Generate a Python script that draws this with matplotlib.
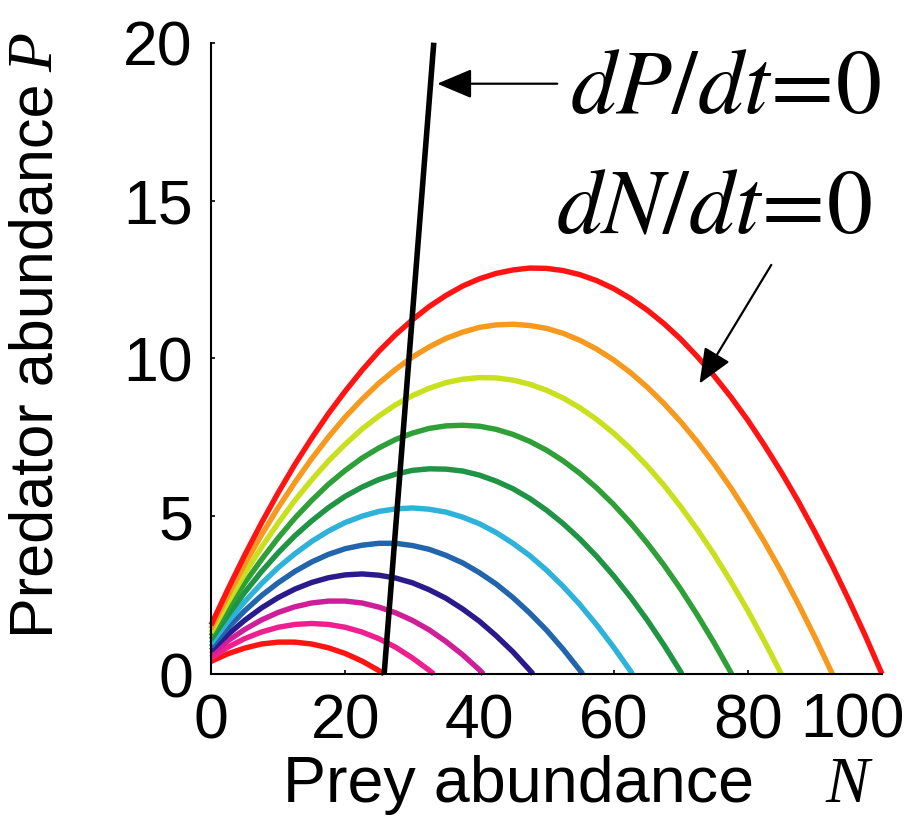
import matplotlib
matplotlib.use("Agg")
import matplotlib.pyplot as plt

plt.rcParams["font.family"] = ["Liberation Sans", "DejaVu Sans"]
plt.rcParams["mathtext.fontset"] = "stix"

# prey abundance grid where the curves were read
N_grid = [0, 2.5, 5, 7.5, 10, 12.5, 15, 17.5, 20, 22.5, 25, 27.5, 30, 32.5,
          35, 37.5, 40, 42.5, 45, 47.5, 50, 52.5, 55, 57.5, 60, 62.5, 65,
          67.5, 70, 72.5, 75, 77.5, 80, 82.5, 85, 87.5, 90, 92.5, 95, 97.5]

# x-intercepts (carrying capacities) of the dN/dt=0 curves
K_vals = [25.8, 33.2, 40.6, 48.0, 55.4, 62.8, 70.2, 77.6, 85.0, 92.6, 100.0]

# predator abundance read along each prey nullcline, at N_grid points below K
P_k26 = [0.40, 0.64, 0.82, 0.95, 1.01, 1.01, 0.95, 0.83, 0.65, 0.41, 0.11]
P_k33 = [0.51, 0.85, 1.12, 1.33, 1.48, 1.57, 1.60, 1.57, 1.48, 1.33, 1.12,
         0.85, 0.51, 0.12]
P_k41 = [0.63, 1.05, 1.41, 1.71, 1.95, 2.13, 2.25, 2.31, 2.31, 2.25, 2.12,
         1.94, 1.70, 1.40, 1.03, 0.61, 0.13]
P_k48 = [0.74, 1.25, 1.70, 2.09, 2.42, 2.69, 2.90, 3.05, 3.14, 3.17, 3.13,
         3.04, 2.89, 2.67, 2.40, 2.06, 1.67, 1.21, 0.70, 0.12]
P_k55 = [0.86, 1.46, 2.00, 2.48, 2.89, 3.25, 3.55, 3.79, 3.97, 4.08, 4.14,
         4.14, 4.07, 3.95, 3.76, 3.52, 3.21, 2.85, 2.42, 1.93, 1.39, 0.78,
         0.11]
P_k63 = [0.97, 1.66, 2.29, 2.86, 3.37, 3.81, 4.20, 4.53, 4.80, 5.00, 5.15,
         5.23, 5.26, 5.22, 5.13, 4.97, 4.76, 4.48, 4.14, 3.75, 3.29, 2.77,
         2.19, 1.55, 0.85, 0.10]
P_k70 = [1.09, 1.86, 2.58, 3.24, 3.84, 4.38, 4.85, 5.27, 5.63, 5.92, 6.16,
         6.33, 6.45, 6.50, 6.49, 6.43, 6.30, 6.11, 5.87, 5.56, 5.19, 4.76,
         4.27, 3.72, 3.11, 2.44, 1.71, 0.92, 0.07]
P_k78 = [1.20, 2.07, 2.88, 3.62, 4.31, 4.94, 5.50, 6.01, 6.45, 6.84, 7.16,
         7.43, 7.63, 7.78, 7.86, 7.88, 7.85, 7.75, 7.59, 7.37, 7.09, 6.75,
         6.35, 5.89, 5.37, 4.79, 4.15, 3.45, 2.69, 1.86, 0.98, 0.04]
P_k85 = [1.31, 2.27, 3.17, 4.01, 4.78, 5.50, 6.15, 6.75, 7.28, 7.76, 8.17,
         8.53, 8.82, 9.05, 9.23, 9.34, 9.39, 9.38, 9.31, 9.18, 8.99, 8.74,
         8.43, 8.06, 7.63, 7.14, 6.59, 5.98, 5.30, 4.57, 3.78, 2.92, 2.01,
         1.03]
P_k93 = [1.43, 2.48, 3.47, 4.40, 5.27, 6.07, 6.82, 7.51, 8.14, 8.70, 9.21,
         9.65, 10.04, 10.36, 10.63, 10.83, 10.98, 11.06, 11.08, 11.04, 10.95,
         10.79, 10.57, 10.29, 9.95, 9.55, 9.09, 8.57, 7.99, 7.35, 6.65, 5.89,
         5.06, 4.18, 3.24, 2.23, 1.17, 0.05]
P_k100 = [1.55, 2.68, 3.76, 4.78, 5.74, 6.64, 7.47, 8.25, 8.96, 9.62, 10.22,
          10.75, 11.22, 11.64, 11.99, 12.29, 12.52, 12.69, 12.80, 12.86,
          12.85, 12.78, 12.65, 12.46, 12.21, 11.90, 11.53, 11.10, 10.61,
          10.05, 9.44, 8.77, 8.04, 7.24, 6.39, 5.48, 4.50, 3.47, 2.37, 1.22]

P_curves = [P_k26, P_k33, P_k41, P_k48, P_k55, P_k63, P_k70, P_k78,
            P_k85, P_k93, P_k100]

colors = ["#ff1414", "#ee1f8e", "#cf1f98", "#2b1a8c", "#2265ad", "#2fb2da",
          "#1f9444", "#2fa038", "#c8e01e", "#f6991f", "#ff1414"]

# predator nullcline dP/dt=0 (end points)
N_pred = [25.8, 33.2]
P_pred = [0.0, 20.0]

x_ticks = [0, 20, 40, 60, 80, 100]
y_ticks = [0, 5, 10, 15, 20]

fig = plt.figure(figsize=(9.22, 8.27), dpi=100)
ax = fig.add_axes([0.2289, 0.185, 0.7277, 0.7634])

for K, P, c in zip(K_vals, P_curves, colors):
    xs = N_grid[:len(P)] + [K]
    ys = P + [0.0]
    ax.plot(xs, ys, color=c, lw=3.9, solid_capstyle="butt",
            solid_joinstyle="round", clip_on=False, zorder=2)

ax.plot(N_pred, P_pred, color="black", lw=4.0, solid_capstyle="butt",
        clip_on=False, zorder=3)

ax.set_xlim(0, 100)
ax.set_ylim(0, 20)
ax.set_xticks(x_ticks)
# the last label is squeezed in from the right edge, drawn below
ax.set_xticklabels([str(v) for v in x_ticks[:-1]] + [""])
ax.set_yticks(y_ticks)
for side in ["top", "right"]:
    ax.spines[side].set_visible(False)
for side in ["left", "bottom"]:
    ax.spines[side].set_linewidth(1.5)
ax.tick_params(direction="in", length=3, width=1.2, labelsize=45, pad=13)
fig.text(852 / 922, 1 - 738 / 827, str(x_ticks[-1]), fontsize=45,
         ha="center", va="baseline")

# axis titles
fig.text(518 / 922, 1 - 802 / 827, "Prey abundance", fontsize=46.5,
         ha="center", va="baseline")
fig.text(847 / 922, 1 - 802 / 827, "N", fontsize=47, style="italic",
         family="Liberation Serif", ha="center", va="baseline")
fig.text(37 / 922, 1 - 361 / 827, "Predator abundance", fontsize=44,
         rotation=90, ha="center", va="center")
fig.text(37 / 922, 1 - 52 / 827, "P", fontsize=46, style="italic",
         family="Liberation Serif", rotation=90, ha="center", va="center")

# nullcline labels and arrows
fig.text(570 / 922, 1 - 113 / 827, r"$dP/dt\!=\!0$", fontsize=66,
         ha="left", va="baseline")
fig.text(556 / 922, 1 - 233 / 827, r"$dN/dt\!=\!0$", fontsize=66,
         ha="left", va="baseline")

ax.annotate("", xy=(33.7, 18.7), xytext=(51.6, 18.7),
            arrowprops=dict(arrowstyle="-|>,head_length=0.9,head_width=0.38",
                            color="black", lw=1.6, mutation_scale=24,
                            shrinkA=0, shrinkB=0), annotation_clip=False)
ax.annotate("", xy=(72.8, 9.2), xytext=(83.5, 12.96),
            arrowprops=dict(arrowstyle="-|>,head_length=0.9,head_width=0.38",
                            color="black", lw=1.6, mutation_scale=24,
                            shrinkA=0, shrinkB=0), annotation_clip=False)

fig.savefig("out.png", dpi=100)
